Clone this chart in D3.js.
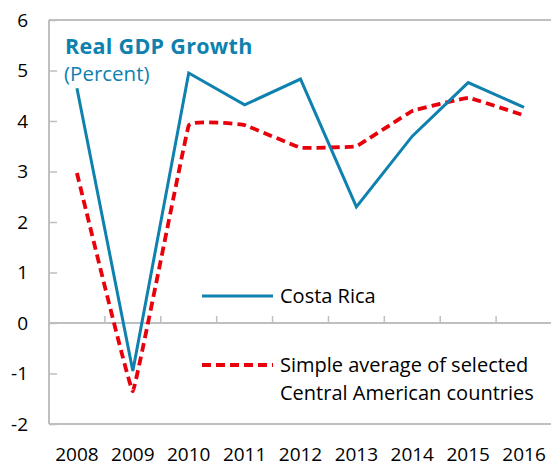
<!DOCTYPE html>
<html lang="en">
<head>
    <meta charset="UTF-8">
    <title>Real GDP Growth</title>
    <script src="https://d3js.org/d3.v7.min.js"></script>
    <style>
        body {
            margin: 0;
            background: #fff;
            overflow: hidden;
        }
        text {
            font-family: "Open Sans", "Noto Sans", sans-serif;
        }
    </style>
</head>
<body>
    <div id="chart"></div>

    <script>
        const years = ['2008', '2009', '2010', '2011', '2012', '2013', '2014', '2015', '2016'];
        const costaRica = [4.65, -0.95, 4.95, 4.32, 4.83, 2.3, 3.7, 4.76, 4.27];
        const centralAmerica = [2.97, -1.35, 3.91, 3.92, 3.47, 3.5, 4.2, 4.46, 4.11];
        const yTicks = [-2, -1, 0, 1, 2, 3, 4, 5, 6];

        const width = 551;
        const height = 466;
        const margin = { left: 49, right: -1, top: 20, bottom: 42 };

        const blue = '#0e81ae';
        const red = '#e8000b';
        const gray = '#bfbfbf';

        const svg = d3.select('#chart').append('svg')
            .attr('width', width)
            .attr('height', height);

        const x = d3.scaleBand()
            .domain(years)
            .range([margin.left, width - margin.right]);

        const y = d3.scaleLinear()
            .domain([-2, 6])
            .range([height - margin.bottom, margin.top]);

        // frame: left axis, top and bottom edges
        svg.append('line')
            .attr('x1', margin.left).attr('x2', margin.left)
            .attr('y1', y(6)).attr('y2', y(-2))
            .attr('stroke', gray).attr('stroke-width', 2);
        [6, -2].forEach(v => {
            svg.append('line')
                .attr('x1', margin.left).attr('x2', width)
                .attr('y1', y(v)).attr('y2', y(v))
                .attr('stroke', gray).attr('stroke-width', 2);
        });

        // y axis ticks and labels
        const yAxis = svg.append('g')
            .attr('transform', `translate(${margin.left},0)`)
            .call(d3.axisRight(y).tickValues(yTicks).tickSize(8).tickFormat(''));
        yAxis.select('.domain').remove();
        yAxis.selectAll('line').attr('stroke', gray).attr('stroke-width', 1.5);

        svg.selectAll('.ylab')
            .data(yTicks)
            .join('text')
            .attr('class', 'ylab')
            .attr('x', 28)
            .attr('y', d => y(d))
            .attr('dy', '0.35em')
            .attr('text-anchor', 'end')
            .attr('font-size', 19)
            .attr('fill', '#000')
            .text(d => d);

        // zero line with category tick marks
        svg.append('line')
            .attr('x1', margin.left).attr('x2', width)
            .attr('y1', y(0)).attr('y2', y(0))
            .attr('stroke', gray).attr('stroke-width', 2);
        svg.selectAll('.xtick')
            .data(years.slice(1))
            .join('line')
            .attr('class', 'xtick')
            .attr('x1', d => x(d)).attr('x2', d => x(d))
            .attr('y1', y(0)).attr('y2', y(0) - 7)
            .attr('stroke', gray).attr('stroke-width', 1.5);

        // x labels
        svg.selectAll('.xlab')
            .data(years)
            .join('text')
            .attr('class', 'xlab')
            .attr('x', d => x(d) + x.bandwidth() / 2)
            .attr('y', 454)
            .attr('dy', '0.35em')
            .attr('text-anchor', 'middle')
            .attr('font-size', 19)
            .attr('fill', '#000')
            .text(d => d);

        // series
        const cx = (d, i) => x(years[i]) + x.bandwidth() / 2;

        svg.append('path')
            .datum(centralAmerica)
            .attr('fill', 'none')
            .attr('stroke', red)
            .attr('stroke-width', 3.8)
            .attr('stroke-dasharray', '9,5')
            .attr('d', d3.line().x(cx).y(d => y(d)).curve(d3.curveCardinal.tension(0.85)));

        svg.append('path')
            .datum(costaRica)
            .attr('fill', 'none')
            .attr('stroke', blue)
            .attr('stroke-width', 3)
            .attr('stroke-linejoin', 'miter')
            .attr('d', d3.line().x(cx).y(d => y(d)));

        // title
        svg.append('text')
            .attr('x', 65).attr('y', 54)
            .attr('font-size', 21.5)
            .attr('font-weight', 'bold')
            .attr('letter-spacing', 0.3)
            .attr('fill', blue)
            .text('Real GDP Growth');
        svg.append('text')
            .attr('x', 64).attr('y', 81)
            .attr('font-size', 20.5)
            .attr('fill', blue)
            .text('(Percent)');

        // legend
        const legend = svg.append('g');
        legend.append('line')
            .attr('x1', 202).attr('x2', 273)
            .attr('y1', 296).attr('y2', 296)
            .attr('stroke', blue).attr('stroke-width', 3);
        legend.append('text')
            .attr('x', 280).attr('y', 296).attr('dy', '0.35em')
            .attr('font-size', 20)
            .text('Costa Rica');
        legend.append('line')
            .attr('x1', 202).attr('x2', 273)
            .attr('y1', 365).attr('y2', 365)
            .attr('stroke', red).attr('stroke-width', 3.8)
            .attr('stroke-dasharray', '9,5');
        legend.append('text')
            .attr('x', 280).attr('y', 365).attr('dy', '0.35em')
            .attr('font-size', 20)
            .text('Simple average of selected');
        legend.append('text')
            .attr('x', 280).attr('y', 393).attr('dy', '0.35em')
            .attr('font-size', 20)
            .text('Central American countries');
    </script>
</body>
</html>
